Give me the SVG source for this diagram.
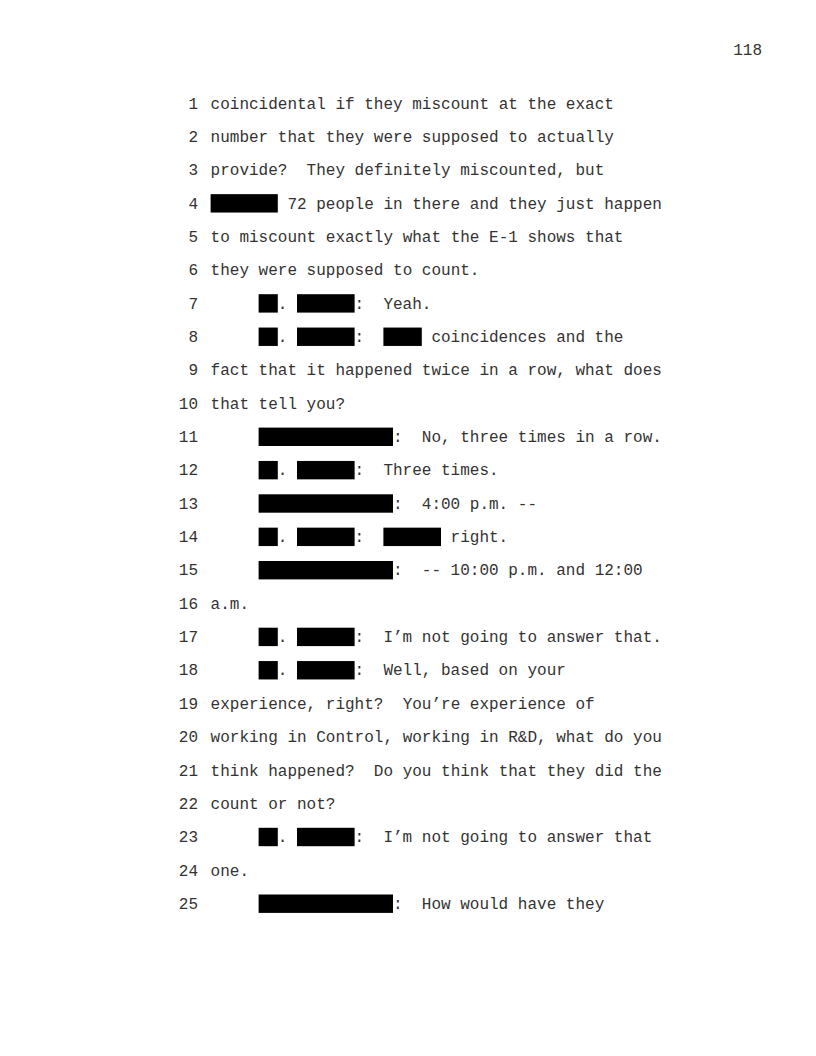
<svg xmlns="http://www.w3.org/2000/svg" width="816" height="1056" viewBox="0 0 816 1056">
<style>
text{font-family:"Liberation Mono","Courier New",monospace;font-size:16px;fill:#333;white-space:pre}
.n{text-anchor:end}
.r{fill:#000}
</style>
<rect width="816" height="1056" fill="#fff"/>
<text x="762" y="55" class="n">118</text>
<g id="numbers">
<text class="n" x="198" y="108.5">1</text>
<text class="n" x="198" y="141.85">2</text>
<text class="n" x="198" y="175.2">3</text>
<text class="n" x="198" y="208.55">4</text>
<text class="n" x="198" y="241.9">5</text>
<text class="n" x="198" y="275.25">6</text>
<text class="n" x="198" y="308.6">7</text>
<text class="n" x="198" y="341.95">8</text>
<text class="n" x="198" y="375.3">9</text>
<text class="n" x="198" y="408.65">10</text>
<text class="n" x="198" y="442">11</text>
<text class="n" x="198" y="475.35">12</text>
<text class="n" x="198" y="508.7">13</text>
<text class="n" x="198" y="542.05">14</text>
<text class="n" x="198" y="575.4">15</text>
<text class="n" x="198" y="608.75">16</text>
<text class="n" x="198" y="642.1">17</text>
<text class="n" x="198" y="675.45">18</text>
<text class="n" x="198" y="708.8">19</text>
<text class="n" x="198" y="742.15">20</text>
<text class="n" x="198" y="775.5">21</text>
<text class="n" x="198" y="808.85">22</text>
<text class="n" x="198" y="842.2">23</text>
<text class="n" x="198" y="875.55">24</text>
<text class="n" x="198" y="908.9">25</text>
</g>
<g id="lines" xml:space="preserve">
<text x="210.6" y="108.5">coincidental if they miscount at the exact</text>
<text x="210.6" y="141.85">number that they were supposed to actually</text>
<text x="210.6" y="175.2">provide?  They definitely miscounted, but</text>
<text x="287.4" y="208.55">72 people in there and they just happen</text>
<text x="210.6" y="241.9">to miscount exactly what the E-1 shows that</text>
<text x="210.6" y="275.25">they were supposed to count.</text>
<text x="277.8" y="308.6">.</text><text x="354.6" y="308.6">:  Yeah.</text>
<text x="277.8" y="341.95">.</text><text x="354.6" y="341.95">:</text><text x="431.4" y="341.95">coincidences and the</text>
<text x="210.6" y="375.3">fact that it happened twice in a row, what does</text>
<text x="210.6" y="408.65">that tell you?</text>
<text x="393" y="442">:  No, three times in a row.</text>
<text x="277.8" y="475.35">.</text><text x="354.6" y="475.35">:  Three times.</text>
<text x="393" y="508.7">:  4:00 p.m. --</text>
<text x="277.8" y="542.05">.</text><text x="354.6" y="542.05">:</text><text x="450.6" y="542.05">right.</text>
<text x="393" y="575.4">:  -- 10:00 p.m. and 12:00</text>
<text x="210.6" y="608.75">a.m.</text>
<text x="277.8" y="642.1">.</text><text x="354.6" y="642.1">:  I’m not going to answer that.</text>
<text x="277.8" y="675.45">.</text><text x="354.6" y="675.45">:  Well, based on your</text>
<text x="210.6" y="708.8">experience, right?  You’re experience of</text>
<text x="210.6" y="742.15">working in Control, working in R&amp;D, what do you</text>
<text x="210.6" y="775.5">think happened?  Do you think that they did the</text>
<text x="210.6" y="808.85">count or not?</text>
<text x="277.8" y="842.2">.</text><text x="354.6" y="842.2">:  I’m not going to answer that</text>
<text x="210.6" y="875.55">one.</text>
<text x="393" y="908.9">:  How would have they</text>
</g>
<g id="redactions" class="r">
<rect x="210.6" y="194.15" width="67.2" height="18.4"/>
<rect x="258.6" y="294.2" width="19.2" height="18.4"/><rect x="297" y="294.2" width="57.6" height="18.4"/>
<rect x="258.6" y="327.55" width="19.2" height="18.4"/><rect x="297" y="327.55" width="57.6" height="18.4"/><rect x="383.4" y="327.55" width="38.4" height="18.4"/>
<rect x="258.6" y="427.6" width="134.4" height="18.4"/>
<rect x="258.6" y="460.95" width="19.2" height="18.4"/><rect x="297" y="460.95" width="57.6" height="18.4"/>
<rect x="258.6" y="494.3" width="134.4" height="18.4"/>
<rect x="258.6" y="527.65" width="19.2" height="18.4"/><rect x="297" y="527.65" width="57.6" height="18.4"/><rect x="383.4" y="527.65" width="57.6" height="18.4"/>
<rect x="258.6" y="561" width="134.4" height="18.4"/>
<rect x="258.6" y="627.7" width="19.2" height="18.4"/><rect x="297" y="627.7" width="57.6" height="18.4"/>
<rect x="258.6" y="661.05" width="19.2" height="18.4"/><rect x="297" y="661.05" width="57.6" height="18.4"/>
<rect x="258.6" y="827.8" width="19.2" height="18.4"/><rect x="297" y="827.8" width="57.6" height="18.4"/>
<rect x="258.6" y="894.5" width="134.4" height="18.4"/>
</g>
</svg>
